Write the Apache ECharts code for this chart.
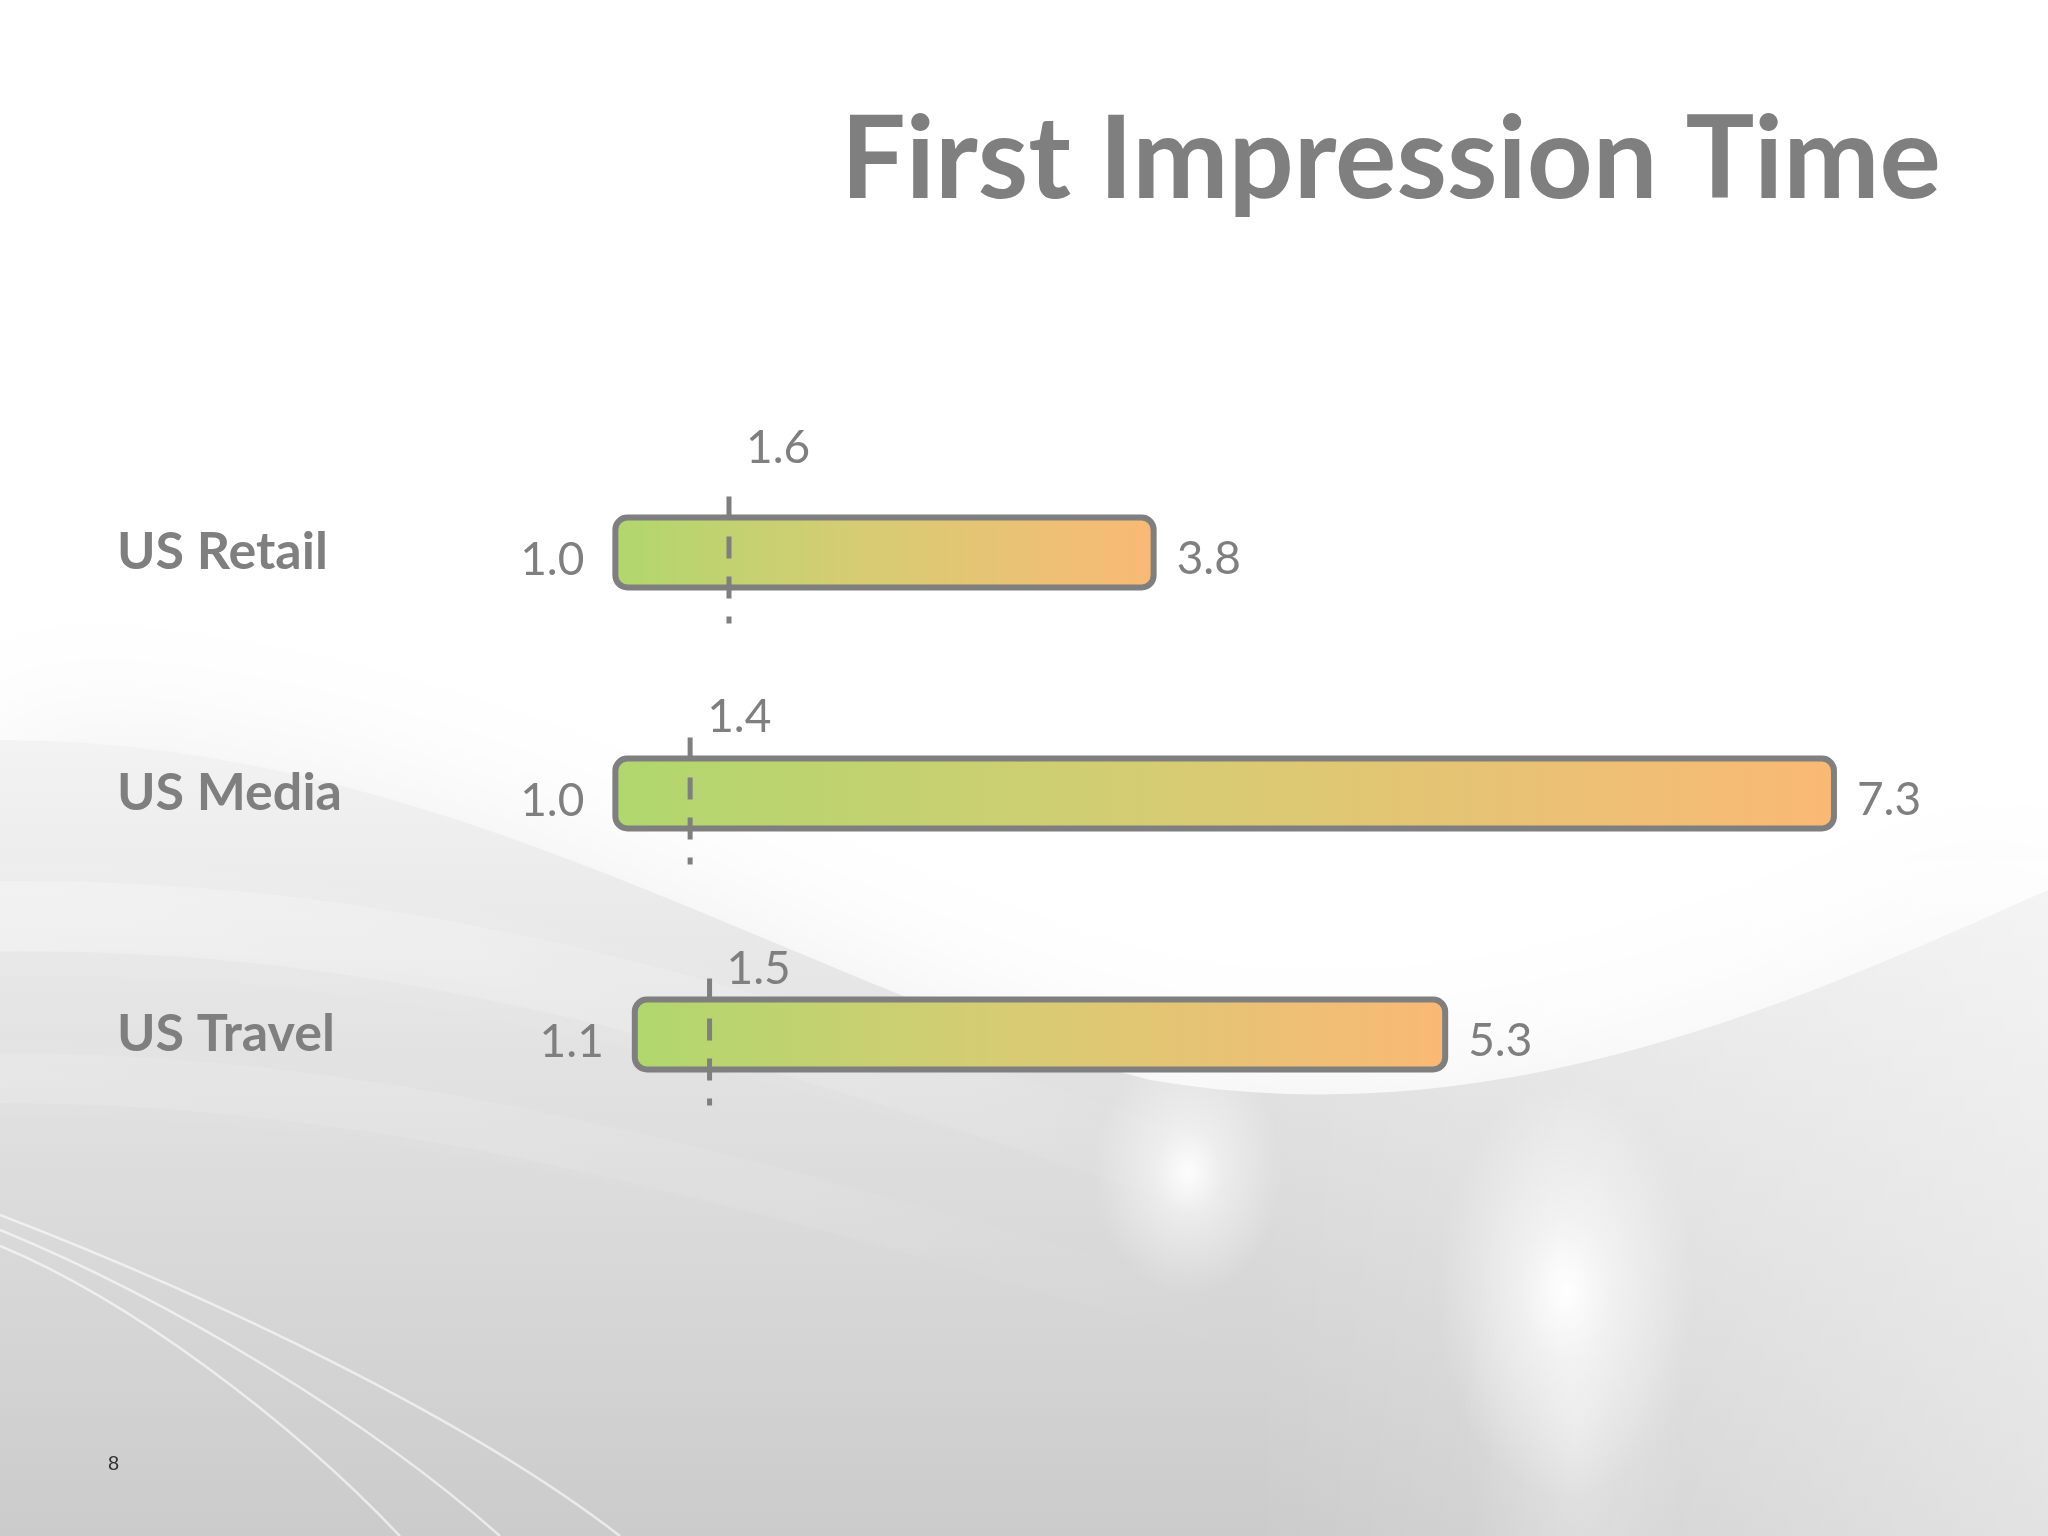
<!DOCTYPE html>
<html>
<head>
<meta charset="utf-8">
<title>First Impression Time</title>
<script src="https://cdn.jsdelivr.net/npm/echarts@6/dist/echarts.min.js"></script>
<style>
  html, body { margin: 0; padding: 0; background: #fff; }
  #chart { width: 2048px; height: 1536px; }
</style>
</head>
<body>
<div id="chart"></div>
<script>
const categories = ["US Retail", "US Media", "US Travel"];
const rangeStart = [1.0, 1.0, 1.1];
const rangeEnd = [3.8, 7.3, 5.3];
const markerValue = [1.6, 1.4, 1.5];

const gray = "#7f7f7f";
const font = "Lato, 'Open Sans', sans-serif";
// how far above the bar centre each marker label sits (px)
const markerLabelRise = [81, 53, 42];

const chart = echarts.init(document.getElementById("chart"));

// sample a cubic bezier so the swoosh edge can go into a polygon
function bez(p0, p1, p2, p3, n) {
  const pts = [];
  for (let k = 0; k <= n; k++) {
    const t = k / n, u = 1 - t;
    pts.push([
      u * u * u * p0[0] + 3 * u * u * t * p1[0] + 3 * u * t * t * p2[0] + t * t * t * p3[0],
      u * u * u * p0[1] + 3 * u * u * t * p1[1] + 3 * u * t * t * p2[1] + t * t * t * p3[1],
    ]);
  }
  return pts;
}
const swooshEdge = bez([0, 740], [450, 740], [800, 990], [1150, 1080], 30)
  .concat(bez([1150, 1080], [1500, 1140], [1800, 1000], [2048, 890], 30));

function fade(dir, a0, a1) {
  return {
    type: "linear", x: 0, y: 0, x2: dir === "h" ? 1 : 0, y2: dir === "h" ? 0 : 1,
    colorStops: [
      { offset: 0, color: "rgba(255,255,255," + a0 + ")" },
      { offset: 1, color: "rgba(255,255,255," + a1 + ")" },
    ],
  };
}

function curve(x1, y1, cpx1, cpy1, cpx2, cpy2, x2, y2, stroke, lineWidth, blur) {
  return {
    type: "bezierCurve",
    z: -7,
    silent: true,
    shape: { x1, y1, cpx1, cpy1, cpx2, cpy2, x2, y2 },
    style: { fill: null, stroke, lineWidth, shadowBlur: blur || 0, shadowColor: "rgba(255,255,255,0.5)" },
  };
}

function glow(x, y, r, scaleY, alpha) {
  return {
    type: "circle",
    z: -6,
    silent: true,
    x, y, scaleY,
    shape: { cx: 0, cy: 0, r },
    style: {
      fill: {
        type: "radial", x: 0.5, y: 0.5, r: 0.5,
        colorStops: [
          { offset: 0, color: "rgba(255,255,255," + alpha + ")" },
          { offset: 0.35, color: "rgba(255,255,255," + alpha * 0.5 + ")" },
          { offset: 1, color: "rgba(255,255,255,0)" },
        ],
      },
    },
  };
}

// slide background: white top, grey swoosh below
const background = [
  {
    type: "polygon",
    z: -10,
    silent: true,
    shape: { points: swooshEdge.concat([[2048, 1536], [0, 1536]]) },
    style: {
      fill: {
        type: "linear", x: 0, y: 0, x2: 0, y2: 1,
        colorStops: [
          { offset: 0, color: "#f3f3f3" },
          { offset: 0.4, color: "#e2e2e2" },
          { offset: 1, color: "#cbcbcb" },
        ],
      },
      shadowBlur: 140,
      shadowColor: "#efefef",
    },
  },
  {
    type: "rect",
    z: -9,
    silent: true,
    shape: { x: 1250, y: 860, width: 798, height: 676 },
    style: { fill: fade("h", 0, 0.45) },
  },
  curve(-100, 920, 400, 890, 800, 1040, 1250, 1190, fade("h", 0.3, 0), 70, 50),
  curve(-100, 1080, 400, 1060, 800, 1200, 1300, 1340, fade("h", 0.15, 0), 50, 40),
  glow(1188, 1172, 95, 1.3, 0.95),
  glow(1566, 1290, 130, 1.6, 1),
  glow(1575, 1420, 110, 3.2, 0.35),
  curve(0, 1215, 220, 1300, 470, 1420, 620, 1536, "rgba(255,255,255,0.6)", 2.5),
  curve(0, 1230, 170, 1300, 370, 1420, 500, 1536, "rgba(255,255,255,0.6)", 2.5),
  curve(0, 1246, 130, 1300, 290, 1420, 400, 1536, "rgba(255,255,255,0.6)", 2.5),
  {
    type: "text",
    x: 108,
    y: 1464,
    style: { text: "8", fill: "#333", font: "20px 'Liberation Sans', sans-serif", verticalAlign: "middle" },
  },
];

const option = {
  backgroundColor: "#ffffff",
  title: {
    text: "First Impression Time",
    right: 102,
    top: 98,
    textStyle: { fontSize: 115, fontWeight: "bold", color: gray, fontFamily: font },
  },
  graphic: { elements: background },
  grid: { left: 418, right: 75, top: 432, bottom: 381 },
  xAxis: { type: "value", min: 0, max: 8, show: false },
  yAxis: {
    type: "category",
    inverse: true,
    data: categories,
    axisLine: { show: false },
    axisTick: { show: false },
    splitLine: { show: false },
    axisLabel: {
      align: "left",
      margin: 301,
      color: gray,
      fontSize: 52,
      fontWeight: "bold",
      fontFamily: font,
    },
  },
  series: [
    {
      name: "start",
      type: "bar",
      stack: "range",
      barWidth: 76,
      data: rangeStart,
      itemStyle: { color: "transparent" },
      label: {
        show: true,
        position: "insideRight",
        distance: 28,
        offset: [0, 8],
        color: gray,
        fontSize: 46,
        fontFamily: font,
        formatter: (p) => rangeStart[p.dataIndex].toFixed(1),
      },
      silent: true,
    },
    {
      name: "range",
      type: "bar",
      stack: "range",
      barWidth: 76,
      data: rangeEnd.map((v, i) => +(v - rangeStart[i]).toFixed(2)),
      itemStyle: {
        borderColor: gray,
        borderWidth: 6,
        borderRadius: 12,
        color: {
          type: "linear", x: 0, y: 0, x2: 1, y2: 0,
          colorStops: [
            { offset: 0, color: "#b0d76e" },
            { offset: 0.45, color: "#d6cc74" },
            { offset: 1, color: "#fab975" },
          ],
        },
      },
      label: {
        show: true,
        position: "right",
        distance: 20,
        offset: [0, 7],
        color: gray,
        fontSize: 46,
        fontFamily: font,
        formatter: (p) => rangeEnd[p.dataIndex].toFixed(1),
      },
    },
    {
      name: "marker",
      type: "custom",
      z: 5,
      encode: { x: 0, y: 1 },
      data: markerValue.map((v, i) => [v, i]),
      renderItem(params, api) {
        const i = api.value(1);
        const p = api.coord([api.value(0), i]);
        return {
          type: "group",
          children: [
            {
              type: "line",
              shape: { x1: p[0], y1: p[1] - 56, x2: p[0], y2: p[1] + 71 },
              style: { stroke: gray, lineWidth: 5, lineDash: [22, 18] },
            },
            {
              type: "text",
              x: p[0] + 17,
              y: p[1] - markerLabelRise[i],
              style: {
                text: api.value(0).toFixed(1),
                fill: gray,
                font: "46px " + font,
                align: "left",
                verticalAlign: "bottom",
              },
            },
          ],
        };
      },
    },
  ],
};

chart.setOption(option);
</script>
</body>
</html>
